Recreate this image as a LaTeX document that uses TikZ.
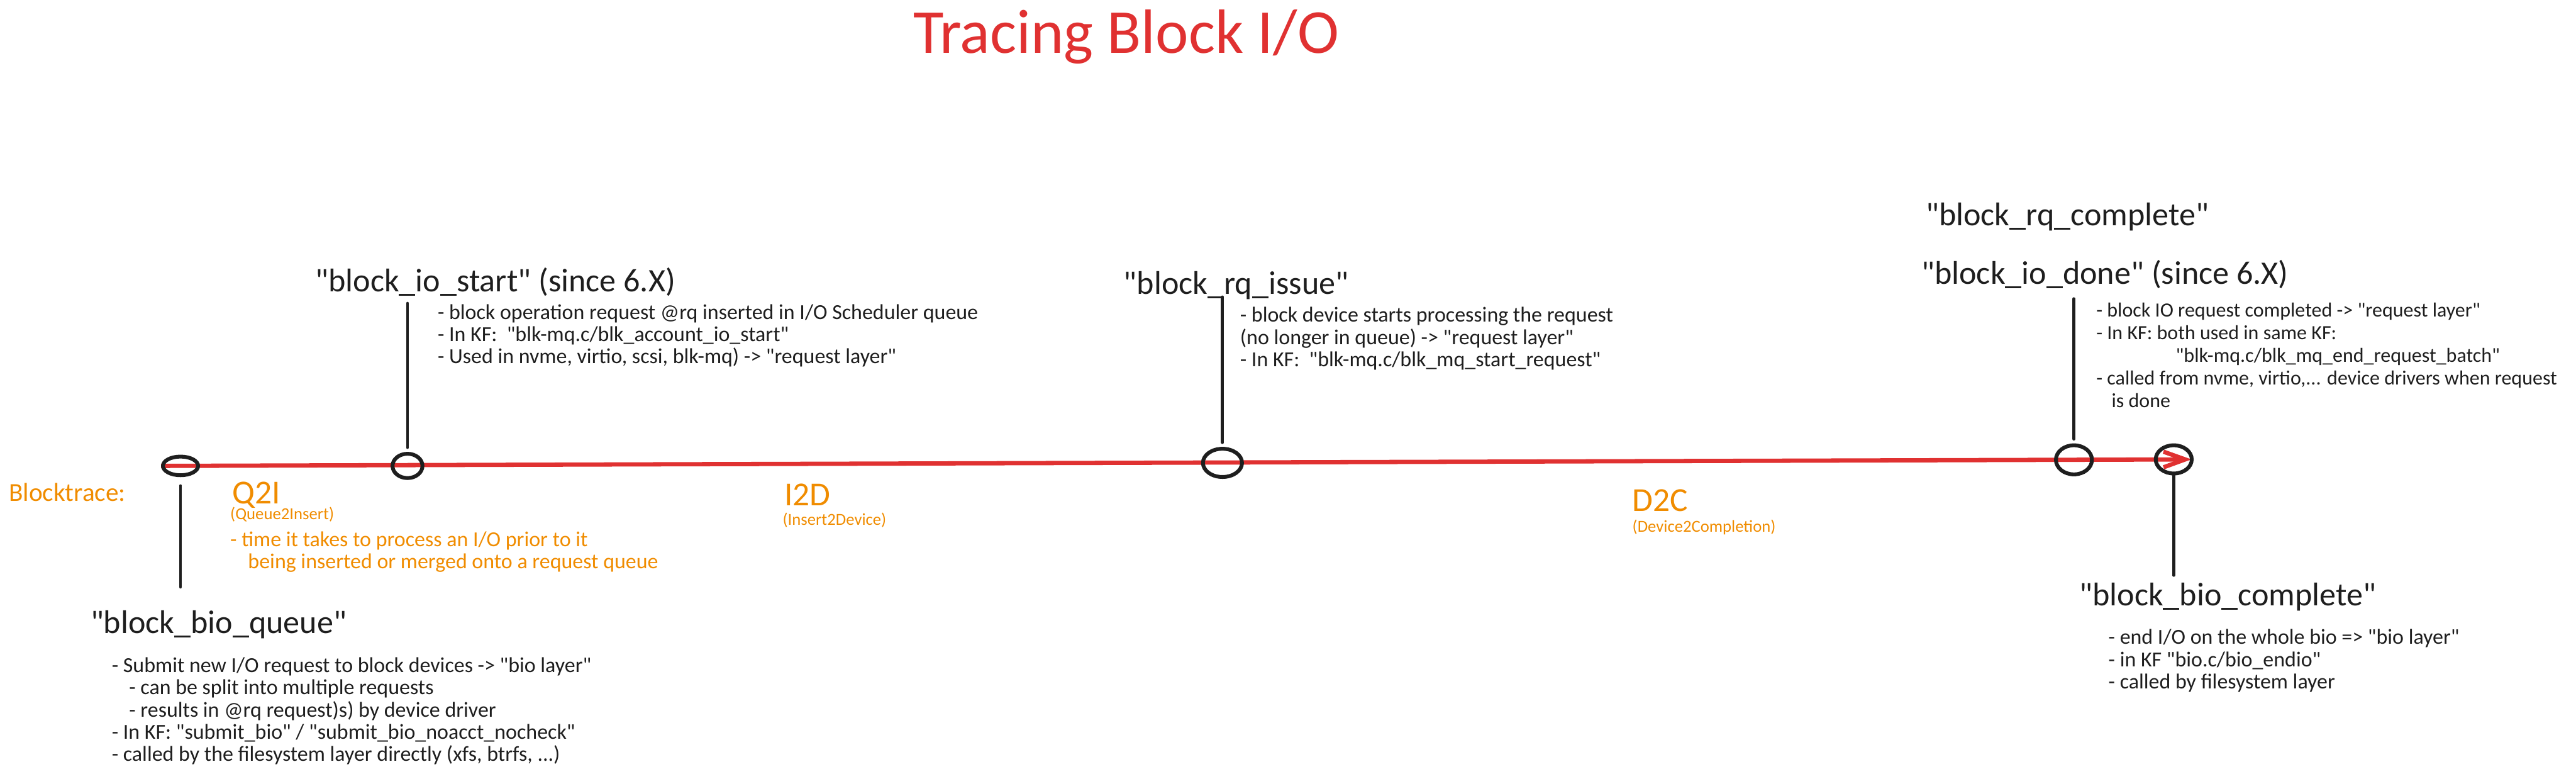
\documentclass[tikz,border=0pt]{standalone}
\usepackage{fontspec}
\setmainfont{Carlito}[Ligatures=TeXOff]
\usetikzlibrary{arrows.meta,positioning,shapes.geometric}
\definecolor{inkblack}{HTML}{1E1E1E}
\definecolor{inkred}{HTML}{E03131}
\definecolor{inkorange}{HTML}{F08C00}
\pgfdeclarelayer{background}
\pgfsetlayers{background,main}
\tikzset{
  evt/.style={draw=inkblack, ellipse, line width=2.5pt, inner sep=0pt},
  stem/.style={draw=inkblack, line width=2pt, line cap=round},
  tline/.style={draw=inkred, line width=2.8pt, -{Straight Barb[length=5mm, width=3.6mm]}},
  ttl/.style={text=inkred, font=\fontsize{41}{45}\selectfont, anchor=base, inner sep=0pt},
  hdr/.style={text=inkblack, font=\fontsize{21.5}{24}\selectfont, anchor=base west, inner sep=0pt},
  notes/.style={text=inkblack, font=\fontsize{14}{14.5}\selectfont, align=left, anchor=north west, inner sep=0pt},
  olbl/.style={text=inkorange, font=\fontsize{22}{24}\selectfont, anchor=base west, inner sep=0pt},
  osub/.style={text=inkorange, font=\fontsize{11}{12}\selectfont, anchor=base west, inner sep=0pt},
  onotes/.style={notes, text=inkorange},
}

\begin{document}
\begin{tikzpicture}
\useasboundingbox (0,0) rectangle (59.36,-17.82);

\node[ttl] (title) at (25.95,-1.23) {Tracing Block I/O};

% events on the timeline
\node[evt, minimum width=0.81cm, minimum height=0.43cm] (c1) at (4.16,-10.73) {};
\node[evt, minimum width=0.69cm, minimum height=0.56cm] (c2) at (9.39,-10.73) {};
\node[evt, minimum width=0.90cm, minimum height=0.65cm] (c3) at (28.17,-10.66) {};
\node[evt, minimum width=0.83cm, minimum height=0.67cm] (c4) at (47.79,-10.59) {};
\node[evt, minimum width=0.83cm, minimum height=0.65cm] (c5) at (50.09,-10.58) {};

\begin{pgfonlayer}{background}
\draw[tline, shorten >=0.05cm] (c1.west) -- (c5.east);
\end{pgfonlayer}

\coordinate[below=2.53cm of c1] (c1-end);
\coordinate[above=3.42cm of c2] (c2-end);
\coordinate[above=3.45cm of c3] (c3-end);
\coordinate[above=3.33cm of c4] (c4-end);
\coordinate[below=2.30cm of c5] (c5-end);

\draw[stem, shorten <=0.2cm] (c1) -- (c1-end);
\foreach \ev in {c2,c3,c4}
  \draw[stem, shorten >=0.1cm] (\ev-end) -- (\ev);
\draw[stem] (c5) -- (c5-end);

% tracepoints
\node[hdr] (iostart) at (7.26,-6.72) {"block\_io\_start" (since 6.X)};
\node[notes] (iostart-notes) at (10.08,-7.00) {- block operation request @rq inserted in I/O Scheduler queue\\
- In KF:\ \ "blk-mq.c/blk\_account\_io\_start"\\
- Used in nvme, virtio, scsi, blk-mq) -> "request layer"};

\node[hdr] (rqissue) at (25.89,-6.78) {"block\_rq\_issue"};
\node[notes] (rqissue-notes) at (28.57,-7.07) {- block device starts processing the request\\
(no longer in queue) -> "request layer"\\
- In KF:\ \ "blk-mq.c/blk\_mq\_start\_request"};

\node[hdr] (rqcomplete) at (44.37,-5.20) {"block\_rq\_complete"};
\node[hdr] (iodone) at (44.27,-6.55) {"block\_io\_done" (since 6.X)};
\node[notes, font=\fontsize{13.2}{14.8}\selectfont] (iodone-notes) at (48.30,-6.97) {- block IO request completed -> "request layer"\\
- In KF: both used in same KF:\\
\hspace*{1.83cm}"blk-mq.c/blk\_mq\_end\_request\_batch"\\
- called from nvme, virtio,... device drivers when request\\
\hspace*{0.35cm}is done};

\node[hdr] (bioqueue) at (2.08,-14.58) {"block\_bio\_queue"};
\node[notes] (bioqueue-notes) at (2.57,-15.14) {- Submit new I/O request to block devices -> "bio layer"\\
\hspace*{0.4cm}- can be split into multiple requests\\
\hspace*{0.4cm}- results in @rq request)s) by device driver\\
- In KF: "submit\_bio" / "submit\_bio\_noacct\_nocheck"\\
- called by the filesystem layer directly (xfs, btrfs, ...)};

\node[hdr] (biocomplete) at (47.91,-13.95) {"block\_bio\_complete"};
\node[notes] (biocomplete-notes) at (48.58,-14.49) {- end I/O on the whole bio => "bio layer"\\
- in KF "bio.c/bio\_endio"\\
- called by filesystem layer};

% blocktrace intervals
\node[olbl, font=\fontsize{17}{19}\selectfont] (blktrace) at (0.20,-11.55) {Blocktrace:};
\node[olbl] (q2i) at (5.35,-11.60) {Q2I};
\node[osub] (q2i-sub) at (5.30,-11.97) {(Queue2Insert)};
\node[onotes] (q2i-notes) at (5.30,-12.24) {- time it takes to process an I/O prior to it\\
\hspace*{0.41cm}being inserted or merged onto a request queue};
\node[olbl] (i2d) at (18.07,-11.65) {I2D};
\node[osub] (i2d-sub) at (18.03,-12.10) {(Insert2Device)};
\node[olbl] (d2c) at (37.61,-11.78) {D2C};
\node[osub] (d2c-sub) at (37.61,-12.25) {(Device2Completion)};

\end{tikzpicture}
\end{document}
